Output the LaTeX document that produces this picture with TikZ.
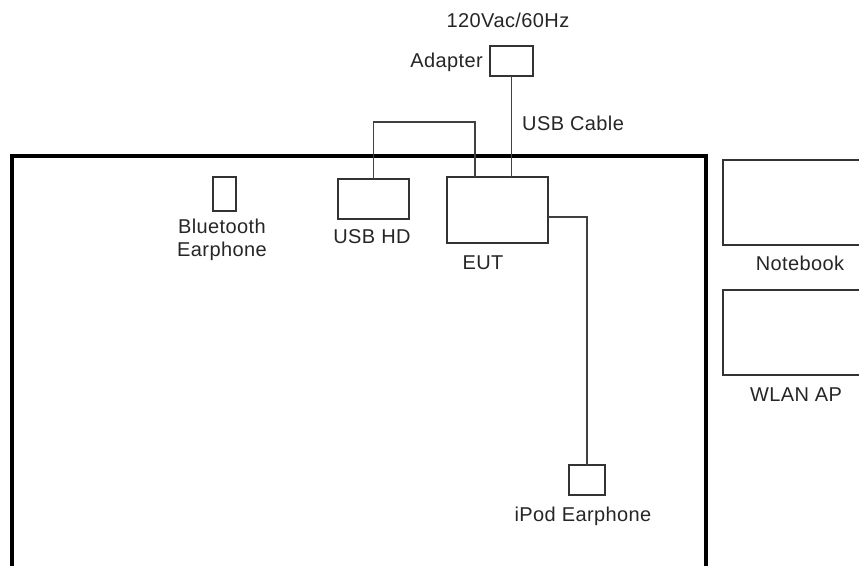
\documentclass[tikz,border=0pt]{standalone}
\usepackage{fontspec}
\setmainfont{Liberation Sans}[LetterSpace=2]
\begin{document}
\begin{tikzpicture}[x=1pt,y=-1pt,
  box/.style={draw=black!80, line width=1.8pt, inner sep=0pt, outer sep=0pt},
  wire/.style={draw=black!75, line width=1.8pt},
  lbl/.style={inner sep=0pt, text=black!85, font=\fontsize{20}{23}\selectfont},
  tablebox/.style={draw=black, line width=4pt}]
\useasboundingbox (0,0) rectangle (859,565);
\clip (0,0) rectangle (859,565);
\fill[white] (0,0) rectangle (859,565);
% table
\draw[tablebox] (12,580) -- (12,156) -- (706,156) -- (706,580);
% boxes
\node[box, minimum width=43pt, minimum height=30pt] (adapter) at (511.5,61) {};
\node[box, minimum width=71pt, minimum height=40pt] (usbhd) at (373.5,199) {};
\node[box, minimum width=101pt, minimum height=66pt] (eut) at (497.5,210) {};
\node[box, minimum width=36pt, minimum height=30pt] (ipod) at (587,480) {};
\node[box, minimum width=23pt, minimum height=34pt] (bt) at (224.5,194) {};
\node[box, minimum width=160pt, minimum height=85pt] (notebook) at (803,202.5) {};
\node[box, minimum width=160pt, minimum height=85pt] (wlan) at (803,332.5) {};
% labels
\node[lbl] (l120) at (508,20) {120Vac/60Hz};
\node[lbl, anchor=east] (ladapter) at (483,62) {Adapter};
\node[lbl, anchor=west] (lusbcable) at (522,123) {USB Cable};
\node[lbl] (lusbhd) at (372,237) {USB HD};
\node[lbl] (leut) at (483,263) {EUT};
\node[lbl, align=center] (lbt) at (222,240) {Bluetooth\\Earphone};
\node[lbl] (lipod) at (583,516) {iPod Earphone};
\node[lbl] (lnotebook) at (800,263) {Notebook};
\node[lbl] (lwlan) at (796,395) {WLAN AP};
% connectors
\coordinate (bridge) at (475,122);
\draw[wire] (adapter.south) -- (adapter.south |- eut.north);
\draw[wire] (usbhd.north) |- (bridge) -- (bridge |- eut.north);
\draw[wire] ([yshift=-7pt]eut.east) -| (ipod.north);
\end{tikzpicture}
\end{document}
